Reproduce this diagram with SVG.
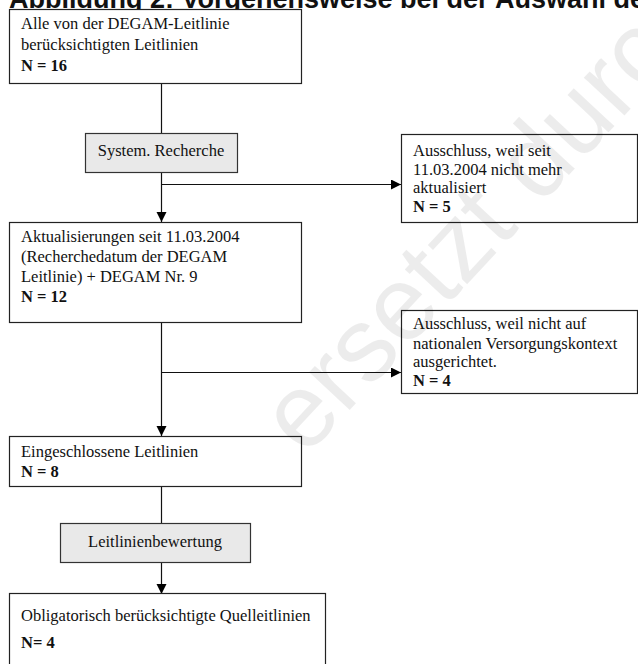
<svg xmlns="http://www.w3.org/2000/svg" width="638" height="664" viewBox="0 0 638 664">
<style>
.box{fill:#fff;stroke:#222;stroke-width:1.2}
.gbox{fill:#e9e9e9;stroke:#333;stroke-width:1.2}
.t{font-family:"Liberation Serif","Times New Roman",serif;font-size:16.5px;fill:#111}
.b{font-weight:bold}
.ln{stroke:#111;stroke-width:1.2;fill:none}
.title{font-family:"Liberation Sans",Arial,sans-serif;font-size:27px;font-weight:bold;fill:#111}
.wm{font-family:"Liberation Sans",Arial,sans-serif;font-size:105px;fill:#000;fill-opacity:0.075}
</style>
<defs>
<marker id="ah" markerUnits="userSpaceOnUse" markerWidth="11" markerHeight="11" refX="10" refY="5" orient="auto">
<path d="M0,0 L10,5 L0,10 z" fill="#000"/>
</marker>
</defs>
<text class="title" x="9" y="8">Abbildung 2: Vorgehensweise bei der Auswahl de</text>
<g id="connectors">
<line class="ln" x1="161.5" y1="83.5" x2="161.5" y2="133"/>
<line class="ln" x1="161.5" y1="172" x2="161.5" y2="222" marker-end="url(#ah)"/>
<line class="ln" x1="161.5" y1="184.5" x2="401" y2="184.5" marker-end="url(#ah)"/>
<line class="ln" x1="161.5" y1="323" x2="161.5" y2="436" marker-end="url(#ah)"/>
<line class="ln" x1="161.5" y1="372.5" x2="401" y2="372.5" marker-end="url(#ah)"/>
<line class="ln" x1="161.5" y1="486" x2="161.5" y2="523"/>
<line class="ln" x1="161.5" y1="562" x2="161.5" y2="594" marker-end="url(#ah)"/>
</g>
<g id="n1">
<rect class="box" x="9.5" y="9.5" width="292" height="74"/>
<text class="t" x="21" y="29">Alle von der DEGAM-Leitlinie</text>
<text class="t" x="21" y="50">berücksichtigten Leitlinien</text>
<text class="t b" x="21" y="71">N = 16</text>
</g>
<g id="n2">
<rect class="gbox" x="85.5" y="133.5" width="152" height="39"/>
<text class="t" x="161" y="156" text-anchor="middle">System. Recherche</text>
</g>
<g id="n3">
<rect class="box" x="401.5" y="134.5" width="236" height="88"/>
<text class="t" x="413" y="156">Ausschluss, weil seit</text>
<text class="t" x="413" y="175">11.03.2004 nicht mehr</text>
<text class="t" x="413" y="193">aktualisiert</text>
<text class="t b" x="413" y="212">N = 5</text>
</g>
<g id="n4">
<rect class="box" x="9.5" y="222.5" width="292" height="100"/>
<text class="t" x="21" y="242">Aktualisierungen seit 11.03.2004</text>
<text class="t" x="21" y="262">(Recherchedatum der DEGAM</text>
<text class="t" x="21" y="282">Leitlinie) + DEGAM Nr. 9</text>
<text class="t b" x="21" y="302">N = 12</text>
</g>
<g id="n5">
<rect class="box" x="401.5" y="310.5" width="236" height="83"/>
<text class="t" x="413" y="329">Ausschluss, weil nicht auf</text>
<text class="t" x="413" y="349">nationalen Versorgungskontext</text>
<text class="t" x="413" y="367">ausgerichtet.</text>
<text class="t b" x="413" y="386">N = 4</text>
</g>
<g id="n6">
<rect class="box" x="9.5" y="436.5" width="292" height="50"/>
<text class="t" x="21" y="457">Eingeschlossene Leitlinien</text>
<text class="t b" x="21" y="477">N = 8</text>
</g>
<g id="n7">
<rect class="gbox" x="60.5" y="523.5" width="190" height="39"/>
<text class="t" x="155" y="547" text-anchor="middle">Leitlinienbewertung</text>
</g>
<g id="n8">
<rect class="box" x="9.5" y="593.5" width="316" height="80"/>
<text class="t" x="21" y="621">Obligatorisch berücksichtigte Quelleitlinien</text>
<text class="t b" x="21" y="648">N= 4</text>
</g>
<text class="wm" transform="translate(305,458) rotate(-47)">ersetzt durch</text>
</svg>
